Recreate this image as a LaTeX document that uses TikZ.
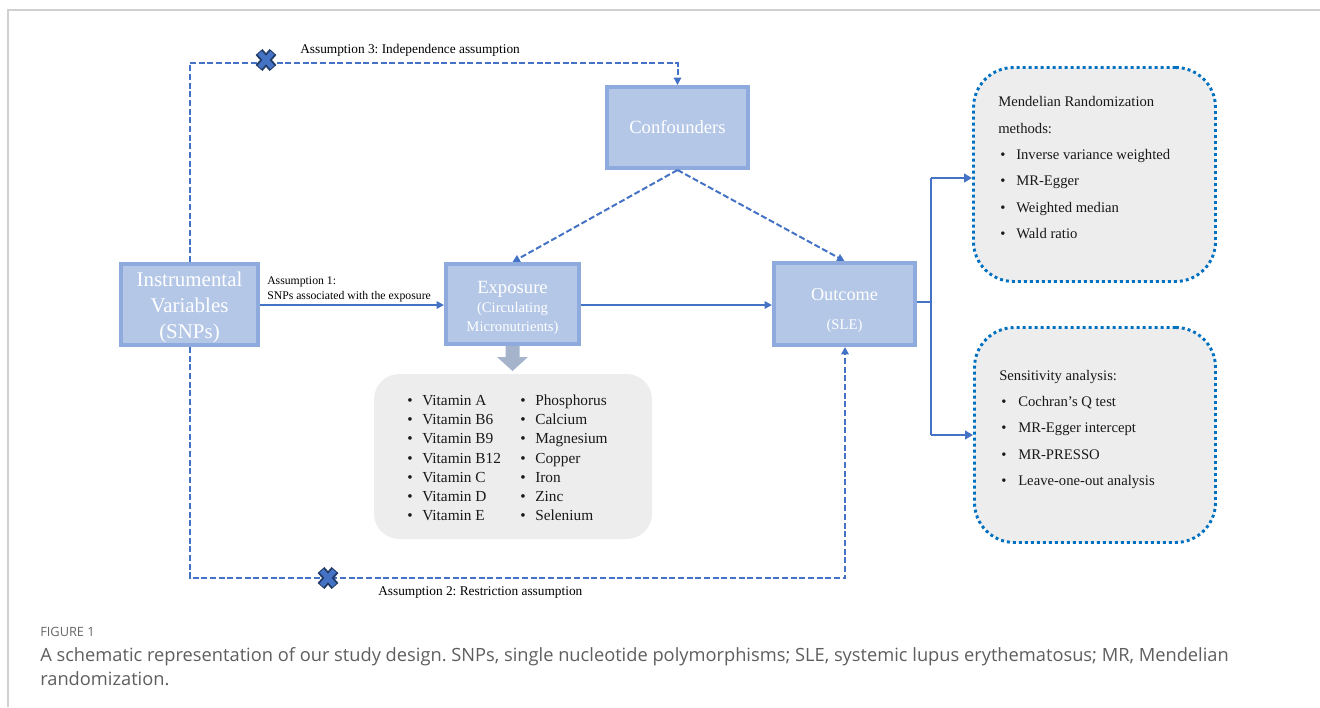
\documentclass[tikz,border=0pt]{standalone}
\usepackage{fontspec}
\setmainfont{Liberation Serif}
\newfontfamily\capfont{Open Sans}
\usetikzlibrary{arrows.meta,calc}
\definecolor{boxfill}{HTML}{B4C7E7}
\definecolor{boxline}{HTML}{8FAADC}
\definecolor{arrowblue}{HTML}{4472C4}
\definecolor{dotblue}{HTML}{0070C0}
\definecolor{panel}{HTML}{EDEDED}
\definecolor{xdark}{HTML}{1F3864}
\definecolor{blockgray}{HTML}{A5B4CB}
\definecolor{framegray}{HTML}{D0D0D0}
\definecolor{captext}{HTML}{5E5E5E}
\frenchspacing
\begin{document}
\begin{tikzpicture}[x=0.75pt,y=-0.75pt,
  varbox/.style={draw=boxline, fill=boxfill, line width=3pt, text=white, align=center, inner sep=0pt},
  solidarrow/.style={draw=arrowblue, line width=1.5pt, -{Triangle[length=5.5pt,width=5.5pt]}},
  dasharrow/.style={draw=arrowblue, line width=1.5pt, dash pattern=on 4.5pt off 2pt, -{Triangle[length=5.5pt,width=5.5pt]}},
  brancharrow/.style={draw=arrowblue, line width=2.2pt, -{Triangle[length=6pt,width=6.5pt]}},
  panelbox/.style={fill=panel, rounded corners=19pt, inner sep=0pt},
  dotbox/.style={draw=dotblue, fill=panel, line width=2.2pt, dash pattern=on 2.2pt off 2.3pt, rounded corners=30pt, inner sep=0pt},
  small/.style={anchor=base west, inner sep=0pt, font=\fontsize{10}{12}\selectfont},
  tiny/.style={anchor=base west, inner sep=0pt, font=\fontsize{8.8}{10.5}\selectfont},
  listtxt/.style={anchor=base west, inner sep=0pt, font=\fontsize{11.5}{14}\selectfont, text=black!90},
  methtxt/.style={anchor=base west, inner sep=0pt, font=\fontsize{11}{13}\selectfont, text=black!90},
  xmark/.pic={
    \draw[xdark, line width=6.8pt] (-7,-8) -- (7,8) (-7,8) -- (7,-8);
    \draw[arrowblue, line width=4pt] (-6.3,-7.3) -- (6.3,7.3) (-6.3,7.3) -- (6.3,-7.3);
  }
]
\useasboundingbox (0,0) rectangle (1320,707);
% frame
\draw[framegray, line width=0.8pt] (8,707) -- (8,10) -- (1320,10);

% main boxes
\node[varbox, minimum width=102.75pt, minimum height=60.75pt,
      font=\fontsize{15.7}{19.5}\selectfont] (iv) at (189.5,304.5)
      {\rule{0pt}{15.5pt}Instrumental\\Variables\\(SNPs)};
\node[varbox, minimum width=99.75pt, minimum height=60pt,
      font=\fontsize{11}{14.25}\selectfont] (exp) at (512.5,304)
      {{\fontsize{14}{14.25}\selectfont\rule{0pt}{15.5pt}Exposure}\\(Circulating\\Micronutrients)};
\node[varbox, minimum width=105.75pt, minimum height=60.75pt,
      font=\fontsize{14}{17}\selectfont] (conf) at (677.5,127.5) {Confounders};
\node[varbox, minimum width=105.75pt, minimum height=61.5pt] (out) at (844.5,304) {};
\node[anchor=base, inner sep=0pt, text=white, font=\fontsize{13.7}{16}\selectfont] (outA) at (844.5,300.5) {Outcome};
\node[anchor=base, inner sep=0pt, text=white, font=\fontsize{11}{13}\selectfont] (outB) at (844.5,329.4) {(SLE)};

% gray block arrow
\fill[blockgray] (exp.south) ++(-7,0) -- ++(0,11) -- ++(-8.5,0) -- ($(exp.south)+(0,25)$)
   -- ++(15.5,-14) -- ++(-8.5,0) -- ++(0,-11) -- cycle;

% list panel
\node[panelbox, minimum width=208.5pt, minimum height=123.75pt] (list) at (513,456.5) {};
\foreach \v [count=\i from 0] in {Vitamin A,Vitamin B6,Vitamin B9,Vitamin B12,Vitamin C,Vitamin D,Vitamin E}{
  \node[listtxt] (lb\i) at (407,405.3+19.25*\i) {•};
  \node[listtxt] (lv\i) at (422,405.3+19.25*\i) {\v};
}
\foreach \v [count=\i from 0] in {Phosphorus,Calcium,Magnesium,Copper,Iron,Zinc,Selenium}{
  \node[listtxt] (mb\i) at (520,405.3+19.25*\i) {•};
  \node[listtxt] (mv\i) at (535,405.3+19.25*\i) {\v};
}

% right panels
\node[dotbox, minimum width=181.5pt, minimum height=160.5pt] (mr) at (1094.5,174.5) {};
\node[methtxt] (mrh1) at (998,106.4) {Mendelian Randomization};
\node[methtxt] (mrh2) at (998,133.4) {methods:};
\foreach \v [count=\i from 0] in {Inverse variance weighted,MR-Egger,Weighted median,Wald ratio}{
  \node[methtxt] (mrb\i) at (1000,159.4+26.3*\i) {•};
  \node[methtxt] (mrt\i) at (1016,159.4+26.3*\i) {\v};
}
\node[dotbox, minimum width=180.75pt, minimum height=161.25pt] (sa) at (1095,435) {};
\node[methtxt] (sah) at (999,380.4) {Sensitivity analysis:};
\foreach \v [count=\i from 0] in {Cochran’s Q test,MR-Egger intercept,MR-PRESSO,Leave-one-out analysis}{
  \node[methtxt] (sab\i) at (1001,406.4+26.3*\i) {•};
  \node[methtxt] (sat\i) at (1018,406.4+26.3*\i) {\v};
}

% solid arrows
\draw[solidarrow] (iv.east |- 0,305) -- (exp.west |- 0,305);
\draw[solidarrow] (exp.east |- 0,305) -- (out.west |- 0,305);
\node[tiny] (a1a) at (267,284.5) {Assumption 1:};
\node[tiny] (a1b) at (267,299.5) {SNPs associated with the exposure};

% confounder arrows
\draw[dasharrow] (conf.south) -- (exp.north);
\draw[dasharrow] (conf.south) -- (out.north);

% assumption 3
\coordinate (t3) at (677.5,63);
\draw[dasharrow] (iv.north) |- (t3) -- (conf.north);
\pic at (266,60) {xmark};
\node[small] (a3) at (300,53) {Assumption 3: Independence assumption};

% assumption 2
\coordinate (b2) at (845,578);
\draw[dasharrow] (iv.south) |- (b2) -- (b2 |- out.south);
\pic at (328,578) {xmark};
\node[small] (a2) at (378,595) {Assumption 2: Restriction assumption};

% branch to panels
\coordinate (jc) at (931,302);
\coordinate (j1) at (931,178);
\coordinate (j2) at (931,435);
\draw[arrowblue, line width=2.2pt] (out.east |- jc) -- (jc);
\draw[arrowblue, line width=2.2pt] (j1) -- (j2);
\draw[brancharrow] (j1) -- (j1 -| mr.west);
\draw[brancharrow] (j2) -- (j2 -| sa.west);

% caption
\node[anchor=base west, inner sep=0pt, text=black!60, font=\capfont\fontsize{9.6}{11}\selectfont] (figlbl) at (40,636.5) {FIGURE 1};
\node[anchor=base west, inner sep=0pt, text=captext, font=\capfont\fontsize{13.7}{16}\selectfont] (cap1) at (40,661)
  {A schematic representation of our study design. SNPs, single nucleotide polymorphisms; SLE, systemic lupus erythematosus; MR, Mendelian};
\node[anchor=base west, inner sep=0pt, text=captext, font=\capfont\fontsize{13.7}{16}\selectfont] (cap2) at (40,685)
  {randomization.};
\end{tikzpicture}
\end{document}
